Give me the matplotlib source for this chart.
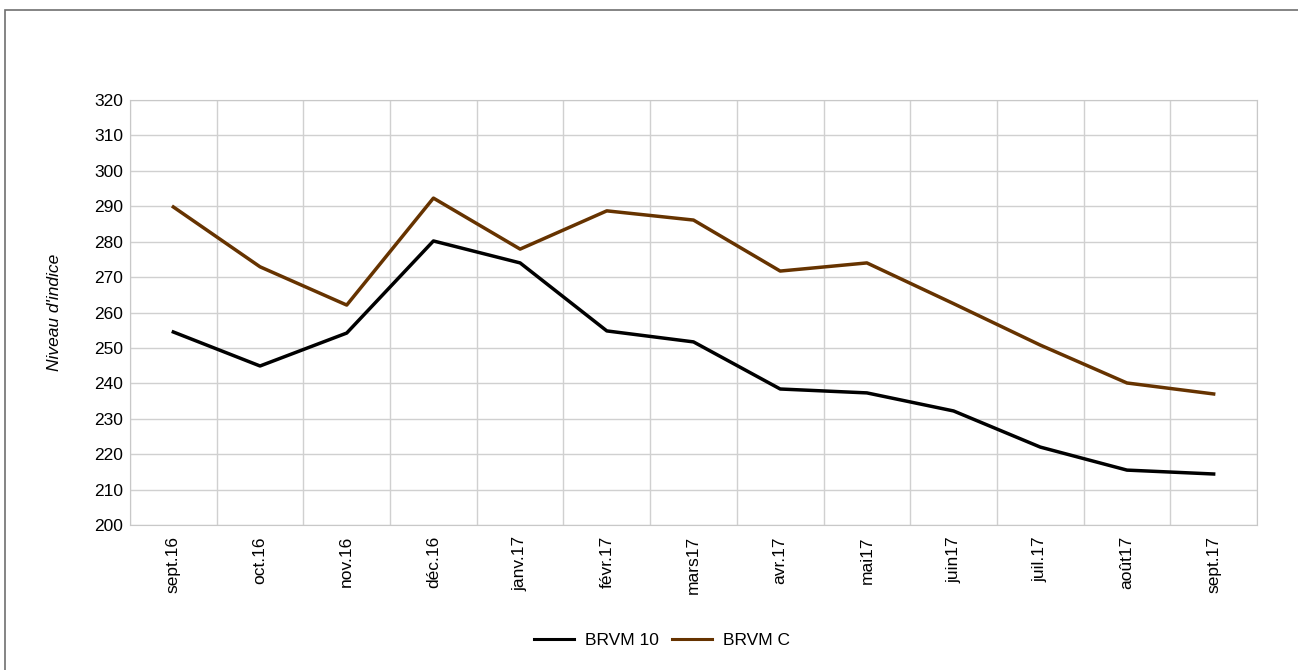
import matplotlib
matplotlib.use('Agg')
import matplotlib.pyplot as plt
from matplotlib.patches import Rectangle

plt.rcParams['font.family'] = ['Liberation Sans', 'DejaVu Sans']

mois = ['sept.16', 'oct.16', 'nov.16', 'déc.16', 'janv.17', 'févr.17', 'mars17',
        'avr.17', 'mai17', 'juin17', 'juil.17', 'août17', 'sept.17']
brvm10 = [254.5, 244.9, 254.2, 280.2, 274.0, 254.8, 251.7, 238.4, 237.3, 232.2, 222.0, 215.5, 214.4]
brvmc = [289.8, 272.9, 262.1, 292.3, 277.9, 288.7, 286.1, 271.7, 274.0, 262.5, 250.8, 240.1, 237.0]

fig = plt.figure(figsize=(12.98, 6.70), dpi=100)
ax = fig.add_axes([130/1298, 1 - 525/670, 1127/1298, 425/670])

x = list(range(len(mois)))
ax.plot(x, brvm10, color='black', lw=2.5, label='BRVM 10')
ax.plot(x, brvmc, color='#663300', lw=2.5, label='BRVM C')

ax.set_xlim(-0.5, len(mois) - 0.5)
ax.set_ylim(200, 320)
ax.set_yticks(range(200, 321, 10))
ax.set_xticks(x)
ax.set_xticklabels(mois, rotation=90, fontsize=12.5)
ax.set_xticks([i - 0.5 for i in range(len(mois) + 1)], minor=True)
ax.tick_params(axis='y', labelsize=12.5, length=0, pad=5)
ax.tick_params(axis='x', which='major', length=0, pad=8)
ax.tick_params(axis='x', which='minor', length=0)
ax.grid(axis='y', color='#d0d0d0', lw=1)
ax.grid(axis='x', which='minor', color='#d0d0d0', lw=1)
ax.set_axisbelow(True)
for s in ax.spines.values():
    s.set_color('#c8c8c8')
ax.set_ylabel("Niveau d'indice", fontstyle='italic', fontsize=12.5)
ax.yaxis.set_label_coords(-68/1127, 0.5)

leg = fig.legend(loc='center', bbox_to_anchor=(662/1298, 1 - 640/670), ncol=2, frameon=False,
                 fontsize=12.5, handlelength=2.3, columnspacing=0.8, handletextpad=0.6)
for ln in leg.get_lines():
    ln.set_linewidth(2.2)

# cadre extérieur
fig.patches.append(Rectangle((5/1298, -0.01), 1.02, 1 - 10/670 + 0.01, transform=fig.transFigure,
                             fill=False, edgecolor='#707070', lw=1.2))

fig.savefig('out.png', dpi=100)
